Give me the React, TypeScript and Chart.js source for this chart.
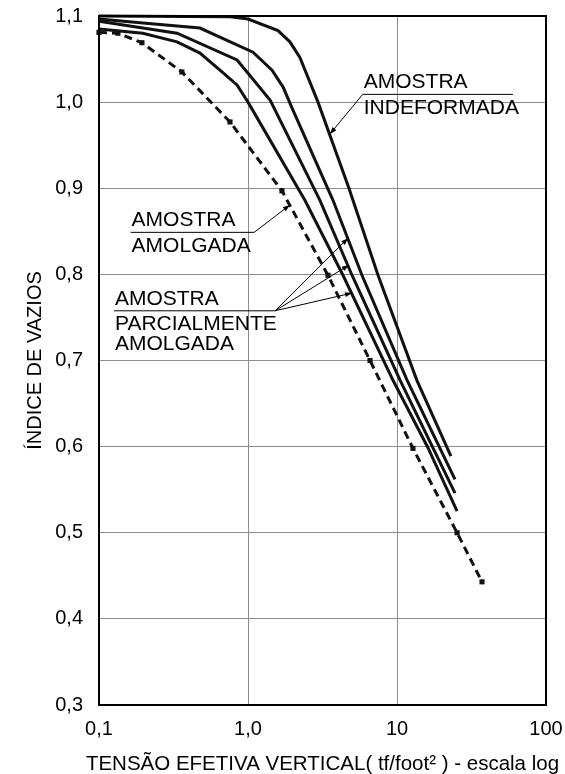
import { useEffect, useRef } from "react";
import { Chart, registerables } from "chart.js";

Chart.register(...registerables);

const FONT = '"Liberation Sans", Arial, Helvetica, sans-serif';

// Axis ticks and titles
const xTickValues = [0.1, 1, 10, 100];
const xTickLabels = ["0,1", "1,0", "10", "100"];
const yTickLabels = ["0,3", "0,4", "0,5", "0,6", "0,7", "0,8", "0,9", "1,0", "1,1"];
const xTitle = "TENSÃO EFETIVA VERTICAL( tf/foot² ) - escala log";
const yTitle = "ÍNDICE DE VAZIOS";

// Amostra indeformada
const indeformadaX = [0.1, 0.76, 1.0, 1.59, 1.91, 2.23, 2.95, 4.76, 7.46, 13.6, 23.0];
const indeformadaY = [1.1, 1.099, 1.0965, 1.083, 1.07, 1.052, 1.0, 0.9, 0.799, 0.677, 0.589];

// Amostras parcialmente amolgadas
const parcial1X = [0.1, 0.197, 0.476, 1.08, 1.45, 1.72, 2.0, 3.72, 5.82, 11.7, 24.5];
const parcial1Y = [1.0965, 1.092, 1.086, 1.058, 1.037, 1.0175, 0.991, 0.886, 0.799, 0.677, 0.562];

const parcial2X = [0.1, 0.197, 0.334, 0.844, 0.985, 1.41, 3.04, 4.99, 10.5, 24.5];
const parcial2Y = [1.094, 1.086, 1.08, 1.049, 1.035, 1.002, 0.886, 0.799, 0.677, 0.546];

const parcial3X = [0.1, 0.197, 0.334, 0.476, 0.669, 0.844, 1.0, 2.41, 4.34, 9.4, 16.1, 25.3];
const parcial3Y = [1.085, 1.08, 1.07, 1.057, 1.035, 1.02, 1.0, 0.886, 0.799, 0.677, 0.599, 0.525];

// Amostra amolgada
const amolgadaX = [0.1, 0.134, 0.194, 0.36, 0.757, 1.69, 3.44, 6.59, 12.8, 25.3, 37.2];
const amolgadaY = [1.081, 1.08, 1.069, 1.035, 0.977, 0.897, 0.799, 0.7, 0.598, 0.5, 0.443];

const zip = (xs: number[], ys: number[]) => xs.map((x, i) => ({ x, y: ys[i] }));

// Callouts: underlined label with leader lines pointing at the curves (data coordinates)
type Callout = {
  lines: string[];
  underline: { x0: number; x1: number; y: number };
  from: "start" | "end";
  tips: [number, number][];
};

const callouts: Callout[] = [
  {
    lines: ["AMOSTRA", "INDEFORMADA"],
    underline: { x0: 5.89, x1: 60, y: 1.009 },
    from: "start",
    tips: [[3.55, 0.963]],
  },
  {
    lines: ["AMOSTRA", "AMOLGADA"],
    underline: { x0: 0.163, x1: 1.1, y: 0.8488 },
    from: "end",
    tips: [[1.91, 0.8805]],
  },
  {
    lines: ["AMOSTRA", "PARCIALMENTE", "AMOLGADA"],
    underline: { x0: 0.126, x1: 1.52, y: 0.7577 },
    from: "end",
    tips: [
      [4.69, 0.842],
      [4.76, 0.8108],
      [4.99, 0.7783],
    ],
  },
];

const framePlugin = {
  id: "frameAndCallouts",
  afterDraw(chart: any) {
    const { ctx, chartArea, scales } = chart;
    const xs = scales.x;
    const ys = scales.y;
    ctx.save();

    // plot frame
    ctx.strokeStyle = "#000";
    ctx.lineWidth = 2;
    ctx.strokeRect(
      chartArea.left,
      chartArea.top,
      chartArea.right - chartArea.left,
      chartArea.bottom - chartArea.top
    );

    // x-axis title, centred under the plot area
    ctx.fillStyle = "#000";
    ctx.font = `20.5px ${FONT}`;
    ctx.textAlign = "center";
    ctx.textBaseline = "alphabetic";
    ctx.fillText(xTitle, (chartArea.left + chartArea.right) / 2, chart.height - 4);

    // callouts
    ctx.font = `21px ${FONT}`;
    ctx.textAlign = "left";
    for (const c of callouts) {
      const ux0 = xs.getPixelForValue(c.underline.x0);
      const ux1 = xs.getPixelForValue(c.underline.x1);
      const uy = ys.getPixelForValue(c.underline.y);

      ctx.lineWidth = 1;
      ctx.strokeStyle = "#000";
      ctx.beginPath();
      ctx.moveTo(ux0, uy);
      ctx.lineTo(ux1, uy);
      ctx.stroke();

      c.lines.forEach((t, i) => {
        const by = i === 0 ? uy - 6 : uy + 19.5 + (i - 1) * 20;
        ctx.fillText(t, ux0 + 1, by);
      });

      const sx = c.from === "start" ? ux0 : ux1;
      for (const [tx, ty] of c.tips) {
        const px = xs.getPixelForValue(tx);
        const py = ys.getPixelForValue(ty);
        ctx.beginPath();
        ctx.moveTo(sx, uy);
        ctx.lineTo(px, py);
        ctx.stroke();
        // arrowhead
        const ang = Math.atan2(py - uy, px - sx);
        const len = 7;
        const w = 2.5;
        const bx = px - Math.cos(ang) * len;
        const by = py - Math.sin(ang) * len;
        ctx.beginPath();
        ctx.moveTo(px, py);
        ctx.lineTo(bx + Math.sin(ang) * w, by - Math.cos(ang) * w);
        ctx.lineTo(bx - Math.sin(ang) * w, by + Math.cos(ang) * w);
        ctx.closePath();
        ctx.fill();
      }
    }
    ctx.restore();
  },
};

export default function App() {
  const canvasRef = useRef<HTMLCanvasElement | null>(null);

  useEffect(() => {
    const canvas = canvasRef.current;
    if (!canvas) return;

    const solid = (data: { x: number; y: number }[]) => ({
      data,
      borderColor: "#111",
      borderWidth: 3,
      pointRadius: 0,
      tension: 0,
      fill: false,
      clip: 6,
    });

    const chart = new Chart(canvas, {
      type: "line",
      data: {
        datasets: [
          { label: "Indeformada", ...solid(zip(indeformadaX, indeformadaY)) },
          { label: "Parcialmente amolgada 1", ...solid(zip(parcial1X, parcial1Y)) },
          { label: "Parcialmente amolgada 2", ...solid(zip(parcial2X, parcial2Y)) },
          { label: "Parcialmente amolgada 3", ...solid(zip(parcial3X, parcial3Y)) },
          {
            label: "Amolgada",
            data: zip(amolgadaX, amolgadaY),
            borderColor: "#111",
            borderWidth: 3,
            borderDash: [8, 5],
            pointRadius: 1.5,
            pointStyle: "rect",
            pointBackgroundColor: "#111",
            pointBorderColor: "#111",
            tension: 0,
            fill: false,
            clip: 6,
          },
        ],
      },
      options: {
        animation: false,
        responsive: false,
        devicePixelRatio: 1,
        layout: { padding: { top: 16, right: 19, left: 0, bottom: 0 } },
        plugins: {
          legend: { display: false },
          tooltip: { enabled: false },
        },
        scales: {
          x: {
            type: "logarithmic",
            min: 0.1,
            max: 100,
            afterBuildTicks: (scale: any) => {
              scale.ticks = xTickValues.map((v) => ({ value: v }));
            },
            afterFit: (scale: any) => {
              scale.height = 69;
              scale.paddingLeft = 0;
              scale.paddingRight = 0;
            },
            grid: { color: "#8c8c8c", lineWidth: 1, drawTicks: false },
            border: { display: false },
            ticks: {
              autoSkip: false,
              maxRotation: 0,
              padding: 12,
              color: "#000",
              font: { family: FONT, size: 20 },
              callback: (_v: any, i: number) => xTickLabels[i],
            },
            title: { display: false },
          },
          y: {
            type: "linear",
            min: 0.3,
            max: 1.1,
            afterFit: (scale: any) => {
              scale.width = 99;
              scale.paddingTop = 0;
              scale.paddingBottom = 0;
            },
            grid: { color: "#8c8c8c", lineWidth: 1, drawTicks: false },
            border: { display: false },
            ticks: {
              stepSize: 0.1,
              padding: 16,
              color: "#000",
              font: { family: FONT, size: 20 },
              callback: (v: any) => yTickLabels[Math.round(Number(v) * 10) - 3],
            },
            title: {
              display: true,
              text: yTitle,
              color: "#000",
              font: { family: FONT, size: 20, lineHeight: 1 },
              padding: { top: 25, bottom: 0 },
            },
          },
        },
      },
      plugins: [framePlugin],
    } as any);

    return () => chart.destroy();
  }, []);

  return (
    <div style={{ position: "absolute", left: 0, top: 0, width: 565, height: 774, background: "#fff" }}>
      <canvas ref={canvasRef} width={565} height={774} style={{ display: "block" }} />
    </div>
  );
}
